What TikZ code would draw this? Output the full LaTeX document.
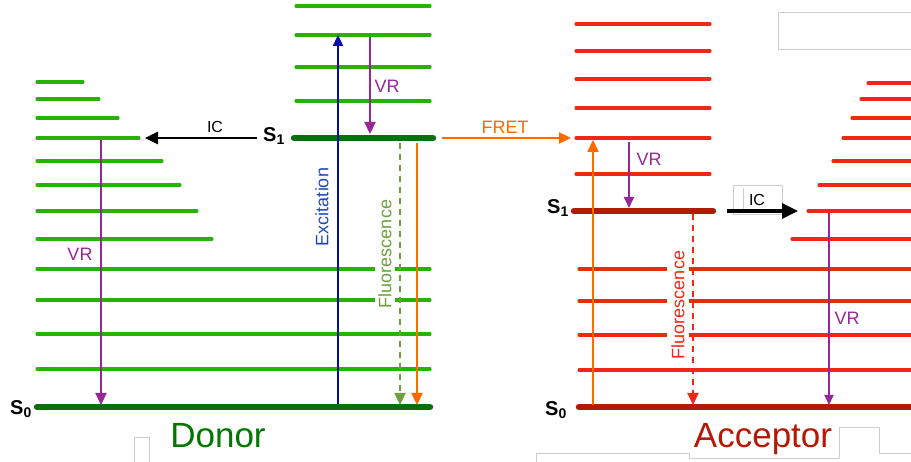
\documentclass[tikz,border=0pt]{standalone}
\usepackage{fontspec}
\setmainfont{Liberation Sans}
\usetikzlibrary{arrows.meta}
\definecolor{lvgreen}{RGB}{40,178,5}
\definecolor{dkgreen}{RGB}{10,110,10}
\definecolor{lvred}{RGB}{238,40,20}
\definecolor{dkred}{RGB}{180,25,5}
\definecolor{vrpurple}{RGB}{150,40,150}
\definecolor{fretorange}{RGB}{255,105,0}
\definecolor{excblue}{RGB}{10,10,170}
\definecolor{exclabel}{RGB}{30,70,190}
\definecolor{flgreen}{RGB}{110,160,60}
\definecolor{artgrey}{RGB}{205,205,205}
\definecolor{donortext}{RGB}{0,120,0}
\definecolor{acctext}{RGB}{180,25,5}
\begin{document}
\begin{tikzpicture}[x=1pt,y=-1pt,
  glevel/.style={draw=lvgreen,line width=3.1pt,line cap=round},
  gstate/.style={draw=dkgreen,line width=6.5pt,line cap=round},
  rlevel/.style={draw=lvred,line width=3.1pt,line cap=round},
  rstate/.style={draw=dkred,line width=6.5pt,line cap=round},
  arr/.style={-{Triangle[length=12pt,width=11pt]}},
  vrarrow/.style={arr,draw=vrpurple,line width=2.3pt},
  lbl/.style={font=\fontsize{18}{20}\selectfont,inner sep=1pt},
  statelbl/.style={font=\fontsize{20}{22}\selectfont\bfseries,inner sep=0pt},
  biglbl/.style={font=\fontsize{35}{38}\selectfont,inner sep=0pt},
  artifact/.style={draw=artgrey,line width=0.9pt}
]
\useasboundingbox (0,0) rectangle (911,462);

% ---------- grey artifacts ----------
\draw[artifact] (778,12) rectangle (916,49);
\draw[artifact,fill=white] (733,185) rectangle (782,214);
\draw[artifact] (743,188) -- (743,210);
\draw[artifact] (134,462) -- (134,437) -- (149,437) -- (149,462);
\draw[artifact] (536,462) -- (536,453) -- (689,453) -- (689,458) -- (839,458) -- (839,427) -- (879,427) -- (879,453) -- (915,453);

% ---------- Donor levels ----------
\foreach \yy/\xe in {82/83,99/99,118/118,138/139,161/162,185/180,211/197,239/212}
  \draw[glevel] (37,\yy) -- (\xe,\yy);
\foreach \yy in {269,300,334,369}
  \draw[glevel] (37,\yy) -- (430,\yy);
\foreach \yy in {6,35,67,101}
  \draw[glevel] (296,\yy) -- (430,\yy);
\draw[gstate] (37,407) -- (430,407);
\draw[gstate] (294,138) -- (433,138);

% ---------- Acceptor levels ----------
\foreach \yy in {24,51,79,108,138,174}
  \draw[rlevel] (576,\yy) -- (710,\yy);
\foreach \yy/\xs in {83/868,99/861,118/852,138/843,161/833,185/819,211/808,239/792}
  \draw[rlevel] (\xs,\yy) -- (915,\yy);
\foreach \yy in {269,301,335,370}
  \draw[rlevel] (579,\yy) -- (915,\yy);
\draw[rstate] (579,407) -- (915,407);
\draw[rstate] (574,211) -- (713,211);

% ---------- labels ----------
\node[lbl,rotate=90,text=exclabel] (excl) at (322,207) {Excitation};
\node[lbl,rotate=90,text=flgreen,fill=white,inner ysep=3pt] (fld) at (385,254) {Fluorescence};
\node[lbl,rotate=90,text=lvred,fill=white,inner ysep=4pt] (fla) at (678,305) {Fluorescence};
\node[lbl,text=vrpurple] (vr1) at (387,86) {VR};
\node[lbl,text=vrpurple] (vr2) at (80,254) {VR};
\node[lbl,text=vrpurple] (vr3) at (649,159) {VR};
\node[lbl,text=vrpurple] (vr4) at (847,318) {VR};
\node[lbl,font=\fontsize{16}{18}\selectfont] (ic1) at (215,127) {IC};
\node[lbl,font=\fontsize{16}{18}\selectfont] (ic2) at (757,200) {IC};
\node[lbl,text=fretorange] (fretl) at (505,127) {FRET};
\node[statelbl] (s1d) at (274,136) {S\textsubscript{1}};
\node[statelbl] (s0d) at (21,409) {S\textsubscript{0}};
\node[statelbl] (s1a) at (558,208) {S\textsubscript{1}};
\node[statelbl] (s0a) at (556,410) {S\textsubscript{0}};
\node[biglbl,text=donortext,anchor=base] (donor) at (218,447) {Donor};
\node[biglbl,text=acctext,anchor=base] (acceptor) at (763,447) {Acceptor};

% ---------- arrow end points ----------
\coordinate (excA) at (338,404);
\coordinate (excB) at (338,35);
\coordinate (vr1A) at (370,37);
\coordinate (vr1B) at (370,134);
\coordinate (icA) at (257,138);
\coordinate (icB) at (145,138);
\coordinate (flA) at (400,143);
\coordinate (flB) at (400,405);
\coordinate (orA) at (417,143);
\coordinate (orB) at (417,405);
\coordinate (vr2A) at (101,140);
\coordinate (vr2B) at (101,405);
\coordinate (fretA) at (442,138);
\coordinate (fretB) at (571,138);
\coordinate (upA) at (593,405);
\coordinate (upB) at (593,140);
\coordinate (vr3A) at (629,142);
\coordinate (vr3B) at (629,208);
\coordinate (ic2A) at (727,211);
\coordinate (ic2B) at (798,211);
\coordinate (fl2A) at (693,214);
\coordinate (fl2B) at (693,405);
\coordinate (vr4A) at (829,213);
\coordinate (vr4B) at (829,405);

% ---------- arrows ----------
\draw[arr,draw=excblue,fill=excblue,line width=2.3pt,-{Triangle[length=11pt,width=10pt]}] (excA) -- (excB);
\draw[vrarrow,fill=vrpurple] (vr1A) -- (vr1B);
\draw[vrarrow,fill=vrpurple] (vr2A) -- (vr2B);
\draw[vrarrow,fill=vrpurple,line width=2pt,-{Triangle[length=11pt,width=10pt]}] (vr3A) -- (vr3B);
\draw[vrarrow,fill=vrpurple,line width=2pt,-{Triangle[length=10pt,width=9pt]}] (vr4A) -- (vr4B);
\draw[arr,draw=black,fill=black,line width=2.6pt,-{Triangle[length=13pt,width=12pt]}] (icA) -- (icB);
\draw[arr,draw=black,fill=black,line width=3.4pt,-{Triangle[length=16pt,width=15pt]}] (ic2A) -- (ic2B);
\draw[arr,draw=flgreen,fill=flgreen,line width=2.3pt,dash pattern=on 6pt off 5pt] (flA) -- (flB);
\draw[arr,draw=lvred,fill=lvred,line width=2.2pt,dash pattern=on 6pt off 5pt] (fl2A) -- (fl2B);
\draw[arr,draw=fretorange,fill=fretorange,line width=2.3pt] (orA) -- (orB);
\draw[arr,draw=fretorange,fill=fretorange,line width=2.3pt] (fretA) -- (fretB);
\draw[arr,draw=fretorange,fill=fretorange,line width=2.3pt] (upA) -- (upB);
\end{tikzpicture}
\end{document}
